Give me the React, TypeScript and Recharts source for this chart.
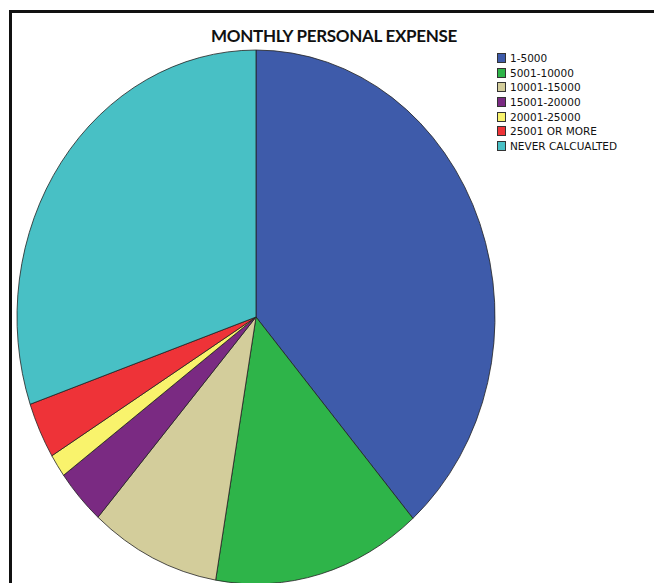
import { PieChart, Pie, Cell, Legend } from 'recharts'

const categories = [
  '1-5000',
  '5001-10000',
  '10001-15000',
  '15001-20000',
  '20001-25000',
  '25001 OR MORE',
  'NEVER CALCUALTED'
]
const percents = [38.6, 14.1, 8.8, 3.4, 1.4, 3.4, 30.3]
const colors = ['#3E5BAA', '#2EB449', '#D3CD9B', '#7A2A82', '#F9F36C', '#EE3338', '#48C0C5']

const data = categories.map((name, i) => ({ name, value: percents[i] }))

// the original pie is a bit taller than wide
const STRETCH = 1.117
const RAD = Math.PI / 180

const EllipseSector = (props: any) => {
  const { cx, cy, outerRadius, startAngle, endAngle, fill } = props
  const rx = outerRadius
  const ry = outerRadius * STRETCH
  const x1 = cx + rx * Math.cos(startAngle * RAD)
  const y1 = cy - ry * Math.sin(startAngle * RAD)
  const x2 = cx + rx * Math.cos(endAngle * RAD)
  const y2 = cy - ry * Math.sin(endAngle * RAD)
  const large = Math.abs(startAngle - endAngle) > 180 ? 1 : 0
  const sweep = startAngle > endAngle ? 1 : 0
  const d = `M${cx},${cy} L${x1},${y1} A${rx},${ry} 0 ${large} ${sweep} ${x2},${y2} Z`
  return <path d={d} fill={fill} stroke="#222" strokeWidth={0.8} strokeLinejoin="round" />
}

const LegendBox = () => (
  <div style={{ fontFamily: '"DejaVu Sans", sans-serif', fontSize: 10.5, color: '#111' }}>
    {categories.map((c, i) => (
      <div key={c} style={{ display: 'flex', alignItems: 'center', height: 14.6 }}>
        <span
          style={{
            width: 9,
            height: 10,
            background: colors[i],
            border: '1px solid #333',
            boxSizing: 'border-box',
            marginRight: 4
          }}
        />
        <span>{c}</span>
      </div>
    ))}
  </div>
)

export default function App() {
  return (
    <div
      style={{
        position: 'fixed',
        top: 0,
        left: 0,
        width: 654,
        height: 583,
        overflow: 'hidden',
        background: '#fff'
      }}
    >
      <div style={{ position: 'absolute', left: 9, top: 10, width: 645, height: 3, background: '#111' }} />
      <div style={{ position: 'absolute', left: 9, top: 10, width: 3, height: 573, background: '#111' }} />
      <div
        style={{
          position: 'absolute',
          left: 0,
          width: 668,
          top: 25,
          textAlign: 'center',
          fontFamily: 'Lato, sans-serif',
          fontWeight: 700,
          fontSize: 17,
          color: '#111',
          letterSpacing: -0.3
        }}
      >
        MONTHLY PERSONAL EXPENSE
      </div>
      <div style={{ position: 'absolute', left: 0, top: 0 }}>
        <PieChart width={654} height={583} margin={{ top: 0, right: 0, bottom: 0, left: 0 }}>
          <Pie
            data={data}
            dataKey="value"
            nameKey="name"
            cx={256}
            cy={317}
            outerRadius={239}
            startAngle={90}
            endAngle={-270}
            shape={EllipseSector}
            isAnimationActive={false}
          >
            {data.map((entry, index) => (
              <Cell key={`cell-${index}`} fill={colors[index]} />
            ))}
          </Pie>
          <Legend
            layout="horizontal"
            verticalAlign="middle"
            align="center"
            wrapperStyle={{ left: 497, top: 51, width: 150 }}
            content={<LegendBox />}
          />
        </PieChart>
      </div>
    </div>
  )
}
